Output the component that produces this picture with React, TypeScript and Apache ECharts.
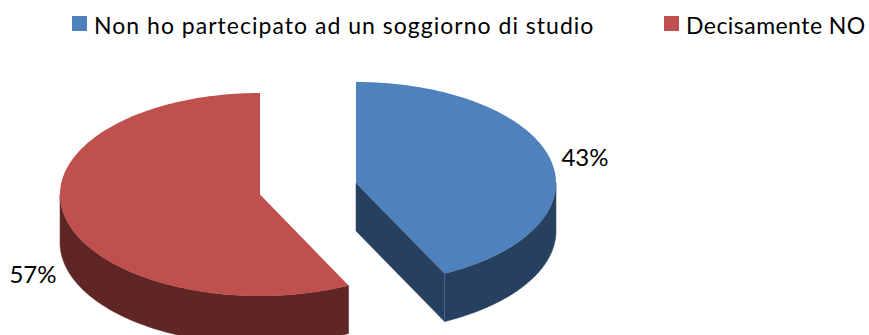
import React, { useEffect, useRef } from "react";
import * as echarts from "echarts";

const sliceNames = ["Non ho partecipato ad un soggiorno di studio", "Decisamente NO"];
const sliceValues = [42.7, 57.3];
const sliceLabels = ["43%", "57%"];

const topColors = ["#4f81bd", "#c0504d"];
const sideColors = ["#27405f", "#602625"];
const seamColor = "#4a6587";
const centers = [[356, 183], [260, 194.5]];
const radiiY = [101, 101.5];
const labelPositions = [[585, 156], [33, 273]];
const legendLeft = [67, 659];
const legendSpacing = [1.02, 0.46];
const RX = 200;
const DEPTH = 48;

const total = sliceValues.reduce((a, b) => a + b, 0);

function arcPoints(cx: number, cy: number, ry: number, a0: number, a1: number, dy = 0) {
  const pts: number[][] = [];
  const n = Math.max(2, Math.ceil(Math.abs(a1 - a0) / 0.02));
  for (let i = 0; i <= n; i++) {
    const a = a0 + ((a1 - a0) * i) / n;
    pts.push([cx + RX * Math.sin(a), cy - ry * Math.cos(a) + dy]);
  }
  return pts;
}

function sliceItem(index: number) {
  return () => {
    const before = sliceValues.slice(0, index).reduce((a, b) => a + b, 0);
    const a0 = (before / total) * 2 * Math.PI;
    const a1 = ((before + sliceValues[index]) / total) * 2 * Math.PI;
    const [cx, cy] = centers[index];
    const ry = radiiY[index];
    const side = sideColors[index];
    const children: any[] = [];
    // outer wall: only the front half of the rim (PI/2 .. 3PI/2) is visible
    const w0 = Math.max(a0, Math.PI / 2);
    const w1 = Math.min(a1, (3 * Math.PI) / 2);
    if (w1 > w0) {
      const upper = arcPoints(cx, cy, ry, w0, w1);
      const lower = arcPoints(cx, cy, ry, w1, w0, DEPTH);
      children.push({
        type: "polygon",
        shape: { points: upper.concat(lower) },
        style: { fill: side, stroke: side, lineWidth: 0.5 },
      });
    }
    // cut face towards the viewer, only when the slice ends on the front half
    if (a1 < Math.PI) {
      const p = arcPoints(cx, cy, ry, a1, a1)[0];
      children.push({
        type: "polygon",
        shape: { points: [[cx, cy], p, [p[0], p[1] + DEPTH], [cx, cy + DEPTH]] },
        style: { fill: side, stroke: side, lineWidth: 0.5 },
      });
      children.push({
        type: "line",
        shape: { x1: p[0], y1: p[1], x2: p[0], y2: p[1] + DEPTH },
        style: { stroke: seamColor, lineWidth: 1 },
      });
    }
    // top face
    const top = [[cx, cy] as number[]].concat(arcPoints(cx, cy, ry, a0, a1));
    children.push({
      type: "polygon",
      shape: { points: top },
      style: { fill: topColors[index] },
    });
    children.push({
      type: "text",
      style: {
        x: labelPositions[index][0],
        y: labelPositions[index][1],
        text: sliceLabels[index],
        fill: "#000",
        font: "24px Lato, 'Open Sans', sans-serif",
        align: "center",
        verticalAlign: "middle",
      },
    });
    return { type: "group", children };
  };
}

export default function App() {
  const ref = useRef<HTMLDivElement>(null);
  useEffect(() => {
    const chart = echarts.init(ref.current!, null, { renderer: "svg" });
    chart.setOption({
      animation: false,
      backgroundColor: "#fff",
      legend: [0, 1].map((i) => ({
        data: [sliceNames[i]],
        left: legendLeft[i],
        top: 7,
        itemWidth: 15,
        itemHeight: 15,
        icon: "rect",
        textStyle: { fontFamily: "Lato, sans-serif", fontSize: 23, color: "#000" },
      })),
      series: sliceNames.map((name, i) => ({
        type: "custom",
        name,
        coordinateSystem: "none",
        color: topColors[i],
        itemStyle: { color: topColors[i] },
        data: [sliceValues[i]],
        silent: true,
        renderItem: sliceItem(i),
      })),
    });
    // The legend text of the reference is loosely tracked and sits a little further from its swatch.
    ref.current!.querySelectorAll("text").forEach((t) => {
      const i = sliceNames.indexOf(t.textContent || "");
      if (i >= 0) {
        t.style.letterSpacing = legendSpacing[i] + "px";
        t.setAttribute("dx", "2");
        t.setAttribute("dy", "1");
      }
    });
    return () => chart.dispose();
  }, []);
  return <div ref={ref} style={{ position: "fixed", left: 0, top: 0, width: 869, height: 335 }} />;
}
